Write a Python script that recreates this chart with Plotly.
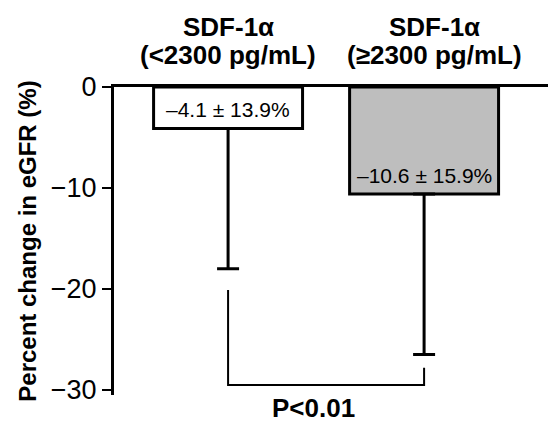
import plotly.graph_objects as go

group_names = ["SDF-1α", "SDF-1α"]
group_ranges = ["(&lt;2300 pg/mL)", "(≥2300 pg/mL)"]
means = [-4.1, -10.6]
sds = [13.9, 15.9]
bar_labels = ["–4.1 ± 13.9%", "–10.6 ± 15.9%"]
bar_colors = ["#ffffff", "#bebebe"]
y_ticks = [0, -10, -20, -30]
bracket_y = [-20.1, -29.5, -29.5, -27.8]
p_text = "P<0.01"

xpos = list(range(len(means)))
FONT = "Arial, Liberation Sans, sans-serif"

fig = go.Figure()
fig.add_trace(go.Bar(
    x=xpos, y=means, width=0.76,
    marker=dict(color=bar_colors, line=dict(color="black", width=3)),
    error_y=dict(type="data", symmetric=False, array=[0, 0], arrayminus=sds,
                 color="black", thickness=3, width=11),
    showlegend=False, hoverinfo="skip",
))
fig.add_trace(go.Scatter(
    x=[xpos[0], xpos[0], xpos[1], xpos[1]], y=bracket_y,
    mode="lines", line=dict(color="black", width=2),
    showlegend=False, hoverinfo="skip", cliponaxis=False,
))

# value labels inside bars, near their ends
for xi, m, lab in zip(xpos, means, bar_labels):
    fig.add_annotation(x=xi, y=m, text=lab, showarrow=False, yanchor="middle",
                       yshift=19, font=dict(family=FONT, size=21, color="black"))

# group titles above the top axis
for i, (xi, nm, rg) in enumerate(zip(xpos, group_names, group_ranges)):
    xs = 0 if i == 0 else 10
    fig.add_annotation(x=xi, xref="x", y=1, yref="paper", text="<b>" + nm + "</b>",
                       showarrow=False, yanchor="middle", yshift=60, xshift=xs,
                       font=dict(family=FONT, size=26, color="black"))
    fig.add_annotation(x=xi, xref="x", y=1, yref="paper", text="<b>" + rg + "</b>",
                       showarrow=False, yanchor="middle", yshift=32, xshift=xs,
                       font=dict(family=FONT, size=26, color="black"))

fig.add_annotation(x=(xpos[0] + xpos[1]) / 2, xref="x", y=0, yref="paper",
                   text="<b>" + p_text.replace("<", "&lt;") + "</b>",
                   showarrow=False, yanchor="middle", yshift=-13, xshift=-13,
                   font=dict(family=FONT, size=26, color="black"))

fig.update_layout(
    width=548, height=414,
    margin=dict(l=106, r=0, t=79, b=27),
    paper_bgcolor="white", plot_bgcolor="white",
    font=dict(family=FONT, color="black"),
    xaxis=dict(
        range=[-0.582, 1.673], side="top", showticklabels=False, ticks="",
        showline=True, linecolor="black", linewidth=3,
        showgrid=False, zeroline=False, fixedrange=True,
    ),
    yaxis=dict(
        range=[-30.5, 0], tickmode="array", tickvals=y_ticks,
        ticks="outside", ticklen=9, tickwidth=2, tickcolor="black",
        tickfont=dict(family=FONT, size=27, color="black"),
        showline=True, linecolor="black", linewidth=3,
        showgrid=False, zeroline=False,
        title=dict(text="<b>Percent change in eGFR (%)</b>",
                   font=dict(family=FONT, size=24, color="black"), standoff=8),
    ),
)

fig.write_html("out.html")
